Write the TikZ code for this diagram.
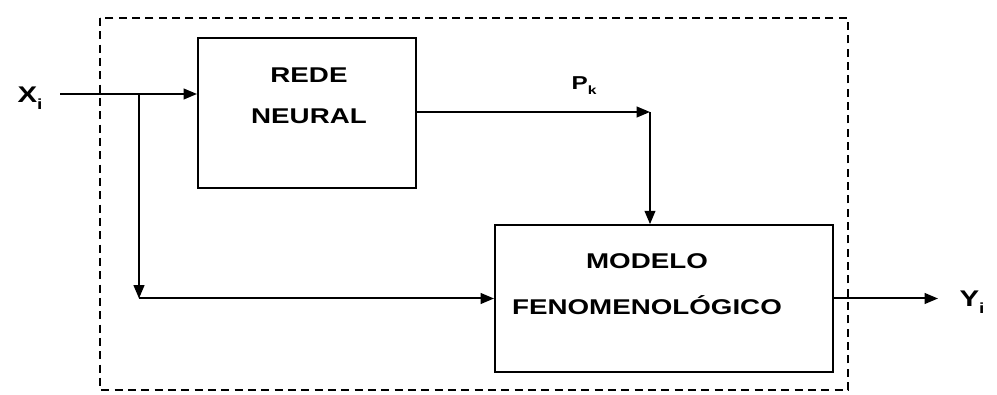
\documentclass[tikz,border=0pt]{standalone}
\usepackage{fontspec}
\setmainfont{Liberation Sans}
\newfontfamily\widefont[FakeStretch=1.3]{Liberation Sans}
\usetikzlibrary{arrows.meta}

\begin{document}
\begin{tikzpicture}[x=0.75pt, y=-0.75pt, line width=1.5pt,
	>={Triangle[length=10pt,width=8pt]},
	every node/.style={font=\widefont\bfseries\fontsize{16}{31}\selectfont},
	bloco/.style={draw, inner sep=0pt}]
	\useasboundingbox (0,0) rectangle (997,395);
	% caixa tracejada
	\draw[dash pattern=on 6pt off 4pt] (100,18) rectangle (848,390);
	% blocos
	\node[bloco, minimum width=163.5pt, minimum height=112.5pt] (rede) at (307,113) {};
	\node[bloco, minimum width=253.5pt, minimum height=110pt] (modelo) at (664,298.5) {};
	\node[align=center] (redetxt) at (309,96) {REDE\\NEURAL};
	\node[align=center, font=\widefont\bfseries\fontsize{16}{34}\selectfont] (modelotxt) at (647,284) {MODELO\\FENOMENOL\'OGICO};
	% rotulos
	\node[font=\widefont\bfseries\fontsize{17}{20}\selectfont] (xi) at (30,98) {X\raisebox{-0.6ex}{\fontsize{11}{12}\selectfont i}};
	\node[font=\widefont\bfseries\fontsize{17}{20}\selectfont] (yi) at (972,302) {Y\raisebox{-0.6ex}{\fontsize{11}{12}\selectfont i}};
	\node[font=\widefont\bfseries\fontsize{14}{16}\selectfont] (pk) at (584,86) {P\raisebox{-0.5ex}{\fontsize{9}{10}\selectfont k}};
	% pontos
	\coordinate (ent) at (60,94);
	\coordinate (ram) at (139,94);
	\coordinate (can) at (139,298.5);
	\coordinate (dob) at (650,112);
	\coordinate (sai) at (938,298.5);
	% ligacoes
	\draw[->] (ent) -- (ent -| rede.west);
	\draw[->] (ram) -- (can);
	\draw[->] (can) -- (modelo.west);
	\draw[->] (rede.east |- dob) -- (dob);
	\draw[->] (dob) -- (dob |- modelo.north);
	\draw[->] (modelo.east) -- (sai);
\end{tikzpicture}
\end{document}
